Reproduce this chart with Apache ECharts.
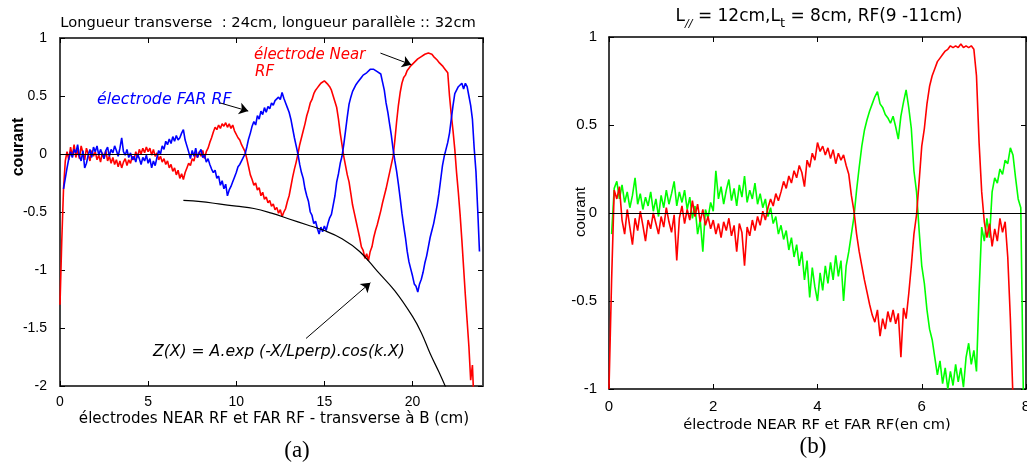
<!DOCTYPE html>
<html>
<head>
<meta charset="utf-8">
<script src="https://cdn.jsdelivr.net/npm/echarts@6/dist/echarts.min.js"></script>
<style>html,body{margin:0;padding:0;background:#fff;}#c{width:1027px;height:464px;}</style>
</head>
<body>
<div id="c"></div>
<script>
// ---------- Panel (a) : x from 0 to 24 cm, sampled every 0.1 cm ----------
const xStepA = 0.1;
const farRfA = [
 null, null, -0.30, -0.21, -0.12, -0.04, 0.02, -0.03, 0.04, 0.01,
 0.08, -0.02, -0.06, 0.03, -0.12, -0.08, -0.01, 0.04, -0.03, 0.06,
 0.02, 0.07, -0.01, 0.04, 0.00, -0.04, 0.03, 0.06, -0.02, 0.04,
 0.01, 0.07, 0.03, -0.02, 0.05, 0.14, 0.02, -0.01, 0.04, -0.03,
 0.01, -0.05, -0.02, -0.07, 0.00, -0.04, -0.09, -0.03, -0.06, -0.01,
 -0.08, -0.04, -0.12, -0.06, -0.10, -0.03, 0.03, 0.00, 0.07, 0.04,
 0.11, 0.08, 0.13, 0.09, 0.15, 0.11, 0.16, 0.12, 0.14, 0.18,
 0.21, 0.12, 0.07, 0.02, -0.04, 0.03, -0.02, 0.05, -0.03, 0.01,
 0.04, -0.03, -0.01, -0.07, -0.04, -0.09, -0.13, -0.16, -0.14, -0.21,
 -0.19, -0.27, -0.23, -0.30, -0.26, -0.36, -0.31, -0.28, -0.24, -0.20,
 -0.16, -0.11, -0.09, -0.06, -0.03, 0.00, 0.06, 0.13, 0.18, 0.24,
 0.28, 0.25, 0.33, 0.30, 0.37, 0.34, 0.40, 0.36, 0.41, 0.39,
 0.44, 0.42, 0.46, 0.45, 0.49, 0.47, 0.53, 0.48, 0.44, 0.40,
 0.36, 0.30, 0.22, 0.14, 0.07, 0.00, -0.09, -0.16, -0.21, -0.30,
 -0.36, -0.41, -0.50, -0.53, -0.60, -0.58, -0.64, -0.69, -0.63, -0.67,
 -0.62, -0.66, -0.60, -0.55, -0.52, -0.44, -0.36, -0.24, -0.17, -0.08,
 -0.02, 0.08, 0.20, 0.32, 0.43, 0.49, 0.54, 0.57, 0.60, 0.62,
 0.64, 0.66, 0.68, 0.69, 0.70, 0.71, 0.73, 0.72, 0.73, 0.72,
 0.71, 0.70, 0.69, 0.62, 0.55, 0.44, 0.36, 0.26, 0.16, 0.04,
 -0.06, -0.15, -0.26, -0.38, -0.51, -0.62, -0.72, -0.84, -0.93, -0.99,
 -1.05, -1.12, -1.14, -1.19, -1.12, -1.08, -1.02, -0.94, -0.88, -0.80,
 -0.72, -0.66, -0.60, -0.52, -0.44, -0.34, -0.22, -0.10, -0.02, 0.04,
 0.10, 0.18, 0.30, 0.42, 0.52, 0.55, 0.58, 0.57, 0.61, 0.56,
 0.61, 0.58, 0.50, 0.42, 0.30, 0.05, -0.15, -0.48, -0.84, null,
 null
];
const nearRfA = [
 -1.30, -0.75, -0.30, -0.06, 0.02, -0.05, 0.06, -0.02, 0.08, -0.03,
 0.04, -0.04, 0.07, 0.01, -0.05, 0.05, 0.00, -0.06, 0.03, -0.02,
 0.02, -0.05, -0.01, -0.07, 0.01, -0.04, 0.03, -0.06, -0.02, -0.08,
 -0.03, -0.09, -0.05, -0.11, -0.06, -0.12, -0.07, -0.04, -0.10, -0.05,
 -0.08, -0.02, -0.05, 0.02, -0.03, 0.04, 0.00, 0.05, 0.01, 0.06,
 0.02, 0.05, -0.01, 0.04, -0.02, 0.01, -0.05, -0.02, -0.07, -0.04,
 -0.09, -0.06, -0.12, -0.09, -0.15, -0.12, -0.18, -0.14, -0.21, -0.17,
 -0.22, -0.16, -0.12, -0.08, -0.10, -0.04, -0.06, 0.01, -0.03, 0.02,
 -0.02, 0.03, -0.04, 0.02, 0.05, 0.10, 0.14, 0.19, 0.23, 0.21,
 0.25, 0.22, 0.26, 0.24, 0.27, 0.23, 0.26, 0.22, 0.25, 0.20,
 0.19, 0.14, 0.12, 0.08, 0.05, 0.02, -0.04, -0.11, -0.18, -0.22,
 -0.27, -0.25, -0.31, -0.29, -0.36, -0.33, -0.39, -0.37, -0.42, -0.40,
 -0.45, -0.43, -0.48, -0.46, -0.51, -0.48, -0.54, -0.50, -0.47, -0.41,
 -0.36, -0.28, -0.20, -0.13, -0.07, 0.00, 0.08, 0.14, 0.20, 0.26,
 0.33, 0.38, 0.44, 0.47, 0.52, 0.55, 0.57, 0.59, 0.61, 0.62,
 0.63, 0.62, 0.60, 0.58, 0.55, 0.50, 0.45, 0.40, 0.30, 0.18,
 0.08, -0.02, -0.10, -0.18, -0.24, -0.34, -0.44, -0.51, -0.58, -0.65,
 -0.72, -0.80, -0.83, -0.90, -0.86, -0.92, -0.84, -0.80, -0.72, -0.66,
 -0.61, -0.55, -0.49, -0.42, -0.36, -0.30, -0.23, -0.16, -0.09, -0.02,
 0.12, 0.28, 0.42, 0.53, 0.61, 0.66, 0.68, 0.72, 0.74, 0.76,
 0.77, 0.79, 0.80, 0.82, 0.83, 0.84, 0.85, 0.86, 0.86, 0.87,
 0.86, 0.86, 0.84, 0.83, 0.81, 0.79, 0.78, 0.76, 0.74, 0.72,
 0.70, 0.50, 0.34, 0.20, 0.04, -0.16, -0.33, -0.52, -0.74, -0.98,
 -1.22, -1.44, -1.66, -1.95, -1.82, -2.20, null, null, null, null,
 null
];
// fitted envelope Z(X)
const envX = [7, 8, 9, 10, 11, 12, 13, 14, 15, 16, 17, 18, 19, 20, 20.5, 21, 21.5, 22];
const envY = [-0.40, -0.41, -0.43, -0.45, -0.47, -0.51, -0.56, -0.61, -0.66, -0.73, -0.84, -1.01, -1.18, -1.40, -1.54, -1.72, -1.88, -2.05];

// ---------- Panel (b) : x from 0 to 8 cm, sampled every 0.05 cm ----------
const xStepB = 0.05;
const redB = [
 -1.00, -0.38, 0.13, 0.08, 0.15, -0.04, -0.12, 0.02, -0.08, -0.18,
 -0.03, -0.10, 0.01, -0.07, -0.16, -0.04, -0.09, 0.00, -0.06, -0.12,
 -0.02, -0.08, 0.03, -0.05, -0.11, -0.01, -0.27, -0.03, 0.04, -0.06,
 0.02, -0.04, 0.07, -0.02, 0.05, -0.05, 0.02, -0.07, -0.02, -0.09,
 -0.04, -0.12, -0.06, -0.14, -0.05, -0.10, -0.03, -0.13, -0.07, -0.22,
 -0.06, -0.11, -0.30, -0.08, -0.13, -0.04, -0.10, -0.02, -0.07, 0.01,
 -0.04, 0.03, 0.08, 0.04, 0.11, 0.07, 0.12, 0.18, 0.14, 0.21,
 0.17, 0.24, 0.20, 0.27, 0.23, 0.15, 0.30, 0.26, 0.34, 0.30,
 0.40, 0.35, 0.38, 0.33, 0.37, 0.31, 0.36, 0.28, 0.34, 0.30,
 0.33, 0.27, 0.22, 0.10, 0.01, -0.12, -0.22, -0.30, -0.38, -0.45,
 -0.52, -0.58, -0.62, -0.55, -0.70, -0.60, -0.66, -0.56, -0.62, -0.55,
 -0.63, -0.57, -0.82, -0.54, -0.60, -0.46, -0.30, -0.12, -0.01, 0.18,
 0.38, 0.48, 0.62, 0.72, 0.78, 0.82, 0.86, 0.88, 0.90, 0.92,
 0.93, 0.95, 0.94, 0.95, 0.94, 0.96, 0.94, 0.95, 0.94, 0.95,
 0.93, 0.78, 0.40, 0.12, -0.05, -0.14, -0.06, -0.19, -0.09, -0.16,
 -0.03, -0.11, -0.05, -0.25, -0.60, -1.05, null, null, null, null,
 null
];
const greenB = [
 null, -0.12, 0.14, 0.18, 0.08, 0.16, 0.06, 0.12, 0.03, 0.10,
 0.20, 0.05, 0.11, 0.02, 0.09, 0.04, 0.12, 0.01, 0.08, -0.02,
 0.10, 0.03, 0.13, 0.05, 0.11, 0.18, 0.04, 0.12, 0.06, 0.13,
 0.02, 0.09, -0.03, 0.04, -0.12, -0.04, -0.22, 0.02, -0.03, 0.06,
 0.01, 0.24, 0.08, 0.15, 0.05, 0.13, 0.19, 0.07, 0.14, 0.04,
 0.16, 0.09, 0.21, 0.06, 0.13, 0.08, 0.17, 0.05, 0.11, 0.03,
 0.08, -0.02, 0.03, -0.06, -0.02, -0.12, -0.07, -0.15, -0.10, -0.21,
 -0.14, -0.25, -0.18, -0.30, -0.22, -0.38, -0.27, -0.48, -0.31, -0.42,
 -0.50, -0.34, -0.44, -0.30, -0.40, -0.28, -0.38, -0.24, -0.36, -0.27,
 -0.50, -0.30, -0.22, -0.12, -0.02, 0.13, 0.26, 0.38, 0.47, 0.53,
 0.58, 0.62, 0.66, 0.69, 0.62, 0.60, 0.56, 0.54, 0.51, 0.55,
 0.49, 0.42, 0.55, 0.63, 0.70, 0.60, 0.48, 0.24, 0.12, -0.10,
 -0.30, -0.40, -0.55, -0.66, -0.72, -0.82, -0.92, -0.84, -0.97, -0.88,
 -1.00, -0.90, -0.98, -0.86, -0.96, -0.88, -0.99, -0.82, -0.74, -0.86,
 -0.78, -0.90, -0.45, -0.08, -0.16, -0.03, -0.14, 0.12, 0.20, 0.17,
 0.25, 0.22, 0.30, 0.28, 0.37, 0.33, 0.20, 0.08, 0.03, -1.05,
 null
];

// annotation arrows (tail -> head), in data units of panel (a)
const arrowFar = [[9.09, 0.44], [10.68, 0.37]];
const arrowNear = [[18.18, 0.87], [19.93, 0.77]];
const arrowFit = [[13.96, -1.59], [17.61, -1.11]];

function pairs(arr, step) {
  return arr.map((v, i) => [Math.round(i * step * 1000) / 1000, v]);
}
const envData = envX.map((x, i) => [x, envY[i]]);

const SANS = '"Liberation Sans", Arial, sans-serif';
const WIDE = '"DejaVu Sans", Verdana, sans-serif';
const SERIF = '"Liberation Serif", "Times New Roman", serif';

function frameAxis(gridIndex, pos, min, max, interval, showLabel, color, width, fs, margin) {
  return {
    type: 'value', gridIndex, position: pos, min, max, interval,
    axisLine: { show: true, onZero: false, lineStyle: { color, width } },
    axisTick: { show: true, inside: true, length: 5, lineStyle: { color: '#000', width: 1 } },
    axisLabel: { show: showLabel, color: '#000', fontSize: fs, fontFamily: SANS, margin, showMaxLabel: (pos === 'bottom' && max === 24) ? false : true },
    splitLine: { show: false }
  };
}

function text(x, y, str, font, fill, opts) {
  opts = opts || {};
  return {
    type: 'text', x, y, rotation: opts.rotation || 0, silent: true,
    style: {
      text: str, font, fill: fill || '#000',
      align: opts.align || 'center', textAlign: opts.align || 'center',
      verticalAlign: 'middle', textVerticalAlign: 'middle',
      rich: opts.rich
    }
  };
}

function arrowLine(a) {
  return [{ coord: a[0], symbol: 'none' }, { coord: a[1], symbol: 'arrow' }];
}

const chart = echarts.init(document.getElementById('c'), null, { renderer: 'canvas' });
chart.setOption({
  animation: false,
  backgroundColor: '#fff',
  grid: [
    { left: 60, top: 38, width: 423, height: 348, outerBoundsMode: 'none', containLabel: false },
    { left: 609, top: 37, width: 417, height: 352, outerBoundsMode: 'none', containLabel: false }
  ],
  xAxis: [
    frameAxis(0, 'bottom', 0, 24, 5, true, '#444', 2, 14, 9),
    frameAxis(0, 'top', 0, 24, 5, false, '#444', 2, 14, 9),
    frameAxis(1, 'bottom', 0, 8, 2, true, '#000', 1.5, 15, 10),
    frameAxis(1, 'top', 0, 8, 2, false, '#000', 1.5, 15, 10)
  ],
  yAxis: [
    frameAxis(0, 'left', -2, 1, 0.5, true, '#444', 2, 14, 13),
    frameAxis(0, 'right', -2, 1, 0.5, false, '#444', 2, 14, 13),
    frameAxis(1, 'left', -1, 1, 0.5, true, '#000', 1.5, 15, 12),
    frameAxis(1, 'right', -1, 1, 0.5, false, '#000', 1.5, 15, 12)
  ],
  series: [
    { type: 'line', xAxisIndex: 0, yAxisIndex: 0, data: pairs(nearRfA, xStepA), showSymbol: false, symbol: 'none',
      lineStyle: { color: '#ff0000', width: 1.6 }, itemStyle: { color: '#ff0000' }, z: 3 },
    { type: 'line', xAxisIndex: 0, yAxisIndex: 0, data: pairs(farRfA, xStepA), showSymbol: false, symbol: 'none',
      lineStyle: { color: '#0000ff', width: 1.6 }, itemStyle: { color: '#0000ff' }, z: 4 },
    { type: 'line', xAxisIndex: 0, yAxisIndex: 0, data: envData, smooth: 0.4, showSymbol: false, symbol: 'none',
      lineStyle: { color: '#000', width: 1.2 }, z: 5,
      markLine: { silent: true, symbol: ['none', 'none'], label: { show: false },
        lineStyle: { color: '#000', width: 1, type: 'solid' },
        data: [{ yAxis: 0 }] } },
    { type: 'line', xAxisIndex: 0, yAxisIndex: 0, data: [], z: 6,
      markLine: { silent: true, symbolSize: 9, label: { show: false }, animation: false,
        lineStyle: { color: '#000', width: 1, type: 'solid' },
        data: [arrowLine(arrowFar), arrowLine(arrowNear), arrowLine(arrowFit)] } },
    { type: 'line', xAxisIndex: 2, yAxisIndex: 2, data: pairs(greenB, xStepB), showSymbol: false, symbol: 'none',
      lineStyle: { color: '#00ff00', width: 1.6 }, itemStyle: { color: '#00ff00' }, z: 3 },
    { type: 'line', xAxisIndex: 2, yAxisIndex: 2, data: pairs(redB, xStepB), showSymbol: false, symbol: 'none',
      lineStyle: { color: '#ff0000', width: 1.6 }, itemStyle: { color: '#ff0000' }, z: 4,
      markLine: { silent: true, symbol: ['none', 'none'], label: { show: false },
        lineStyle: { color: '#000', width: 1, type: 'solid' },
        data: [{ yAxis: 0 }] } }
  ],
  graphic: [
    text(268, 23, 'Longueur transverse  : 24cm, longueur parallèle :: 32cm', '14.7px ' + WIDE),
    text(819, 19, '{m|L}{s|//}{m| = 12cm,L}{t|t}{m| = 8cm, RF(9 -11cm)}', '16px ' + WIDE, '#000', {
      rich: {
        m: { fontSize: 17, fontFamily: WIDE, fill: '#000', color: '#000', verticalAlign: 'bottom', padding: [0, 0, 5, 0] },
        s: { fontSize: 11, fontFamily: WIDE, fontStyle: 'italic', fill: '#000', color: '#000', verticalAlign: 'bottom' },
        t: { fontSize: 13, fontFamily: WIDE, fill: '#000', color: '#000', verticalAlign: 'bottom' }
      } }),
    text(19, 147, 'courant', 'bold 16px ' + SANS, '#000', { rotation: Math.PI / 2 }),
    text(581, 212, 'courant', '15px ' + SANS, '#000', { rotation: Math.PI / 2 }),
    text(274, 419, 'électrodes NEAR RF et FAR RF - transverse à B (cm)', '15.1px ' + WIDE),
    text(817, 425, 'électrode NEAR RF et FAR RF(en cm)', '14.6px ' + WIDE),
    text(297, 451, '(a)', '23px ' + SERIF),
    text(813, 447, '(b)', '23px ' + SERIF),
    text(254, 55, 'électrode Near', 'italic 15px ' + WIDE, '#ff0000', { align: 'left' }),
    text(255, 72, 'RF', 'italic 15px ' + WIDE, '#ff0000', { align: 'left' }),
    text(97, 100, 'électrode FAR RF', 'italic 15.8px ' + WIDE, '#0000ff', { align: 'left' }),
    text(153, 352, 'Z(X) = A.exp (-X/Lperp).cos(k.X)', 'italic 15.6px ' + WIDE, '#000', { align: 'left' })
  ]
});
</script>
</body>
</html>
